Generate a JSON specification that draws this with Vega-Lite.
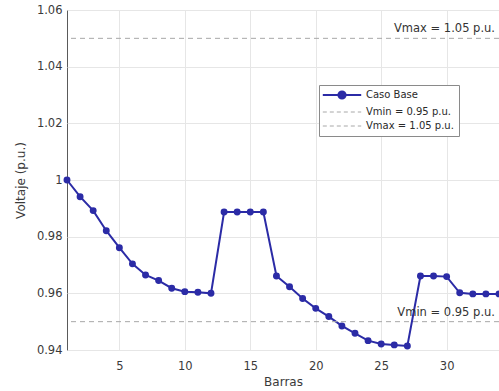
{
  "$schema": "https://vega.github.io/schema/vega-lite/v6.json",
  "width": 432,
  "height": 340,
  "autosize": {"type": "none"},
  "padding": {"left": 67, "top": 10, "right": 0, "bottom": 41},
  "background": "white",
  "config": {
    "font": "DejaVu Sans",
    "view": {"stroke": "#5a5a5a", "strokeWidth": 1},
    "axis": {
      "domain": false,
      "ticks": false,
      "gridColor": "#e6e6e6",
      "gridWidth": 1,
      "labelColor": "#3a3a3a",
      "labelFontSize": 11.5,
      "titleColor": "#3a3a3a",
      "titleFontSize": 12,
      "titleFontWeight": "normal"
    }
  },
  "layer": [
    {
      "data": {"values": [
        {"barra": 1, "v": 1.0, "serie": "Caso Base"},
        {"barra": 2, "v": 0.9941, "serie": "Caso Base"},
        {"barra": 3, "v": 0.9892, "serie": "Caso Base"},
        {"barra": 4, "v": 0.9821, "serie": "Caso Base"},
        {"barra": 5, "v": 0.9761, "serie": "Caso Base"},
        {"barra": 6, "v": 0.9704, "serie": "Caso Base"},
        {"barra": 7, "v": 0.9665, "serie": "Caso Base"},
        {"barra": 8, "v": 0.9645, "serie": "Caso Base"},
        {"barra": 9, "v": 0.9618, "serie": "Caso Base"},
        {"barra": 10, "v": 0.9606, "serie": "Caso Base"},
        {"barra": 11, "v": 0.9604, "serie": "Caso Base"},
        {"barra": 12, "v": 0.9600, "serie": "Caso Base"},
        {"barra": 13, "v": 0.9887, "serie": "Caso Base"},
        {"barra": 14, "v": 0.9887, "serie": "Caso Base"},
        {"barra": 15, "v": 0.9887, "serie": "Caso Base"},
        {"barra": 16, "v": 0.9887, "serie": "Caso Base"},
        {"barra": 17, "v": 0.9661, "serie": "Caso Base"},
        {"barra": 18, "v": 0.9623, "serie": "Caso Base"},
        {"barra": 19, "v": 0.9582, "serie": "Caso Base"},
        {"barra": 20, "v": 0.9547, "serie": "Caso Base"},
        {"barra": 21, "v": 0.9518, "serie": "Caso Base"},
        {"barra": 22, "v": 0.9485, "serie": "Caso Base"},
        {"barra": 23, "v": 0.9459, "serie": "Caso Base"},
        {"barra": 24, "v": 0.9433, "serie": "Caso Base"},
        {"barra": 25, "v": 0.9421, "serie": "Caso Base"},
        {"barra": 26, "v": 0.9418, "serie": "Caso Base"},
        {"barra": 27, "v": 0.9414, "serie": "Caso Base"},
        {"barra": 28, "v": 0.9661, "serie": "Caso Base"},
        {"barra": 29, "v": 0.9661, "serie": "Caso Base"},
        {"barra": 30, "v": 0.9659, "serie": "Caso Base"},
        {"barra": 31, "v": 0.9602, "serie": "Caso Base"},
        {"barra": 32, "v": 0.9598, "serie": "Caso Base"},
        {"barra": 33, "v": 0.9598, "serie": "Caso Base"},
        {"barra": 34, "v": 0.9598, "serie": "Caso Base"}
      ]},
      "mark": {"type": "line", "strokeWidth": 2, "point": {"filled": true, "size": 48, "opacity": 1}},
      "encoding": {
        "x": {
          "field": "barra", "type": "quantitative",
          "scale": {"domain": [1, 34], "nice": false, "zero": false},
          "axis": {"title": "Barras", "values": [5, 10, 15, 20, 25, 30], "labelPadding": 10, "titlePadding": 5}
        },
        "y": {
          "field": "v", "type": "quantitative",
          "scale": {"domain": [0.94, 1.06], "nice": false, "zero": false},
          "axis": {"title": "Voltaje (p.u.)", "values": [0.94, 0.96, 0.98, 1.0, 1.02, 1.04, 1.06], "labelExpr": "format(datum.value, '.2~f')", "labelPadding": 5, "titlePadding": 9}
        },
        "color": {
          "field": "serie", "type": "nominal",
          "scale": {"domain": ["Caso Base", "Vmin = 0.95 p.u.", "Vmax = 1.05 p.u."], "range": ["#2b2ba6", "#a8a8a8", "#a8a8a8"]},
          "legend": {
            "title": null,
            "orient": "none",
            "legendX": 252,
            "legendY": 75,
            "direction": "vertical",
            "fillColor": "white",
            "strokeColor": "#8a8a8a",
            "padding": 5,
            "rowPadding": 4,
            "symbolSize": 144,
            "symbolOffset": 13,
            "labelFontSize": 10,
            "labelColor": "#2a2a2a",
            "labelOffset": 19,
            "encode": {
              "symbols": {
                "update": {
                  "shape": {"signal": "datum.value === 'Caso Base' ? 'M-3.2,0L3.2,0M-0.6,0A0.6,0.6 0 1 1 0.6,0A0.6,0.6 0 1 1 -0.6,0Z' : 'M-3.2,0L3.2,0'"},
                  "fill": {"signal": "datum.value === 'Caso Base' ? '#2b2ba6' : 'transparent'"},
                  "stroke": {"signal": "datum.value === 'Caso Base' ? '#2b2ba6' : '#a8a8a8'"},
                  "strokeWidth": {"signal": "datum.value === 'Caso Base' ? 2 : 1"},
                  "strokeDash": {"signal": "datum.value === 'Caso Base' ? [] : [4, 3]"},
                  "opacity": {"value": 1}
                }
              }
            }
          }
        }
      }
    },
    {
      "data": {"values": [
        {"serie": "Vmin = 0.95 p.u.", "v": 0.95},
        {"serie": "Vmax = 1.05 p.u.", "v": 1.05}
      ]},
      "mark": {"type": "rule", "strokeDash": [5, 4], "strokeWidth": 1},
      "encoding": {
        "y": {"field": "v", "type": "quantitative"},
        "color": {"field": "serie", "type": "nominal"}
      }
    },
    {
      "data": {"values": [
        {"label": "Vmax = 1.05 p.u.", "barra": 34, "v": 1.05},
        {"label": "Vmin = 0.95 p.u.", "barra": 34, "v": 0.95}
      ]},
      "mark": {"type": "text", "align": "right", "baseline": "bottom", "dx": -4, "dy": -4, "fontSize": 11.5, "color": "#333333"},
      "encoding": {
        "x": {"field": "barra", "type": "quantitative"},
        "y": {"field": "v", "type": "quantitative"},
        "text": {"field": "label"}
      }
    }
  ]
}
